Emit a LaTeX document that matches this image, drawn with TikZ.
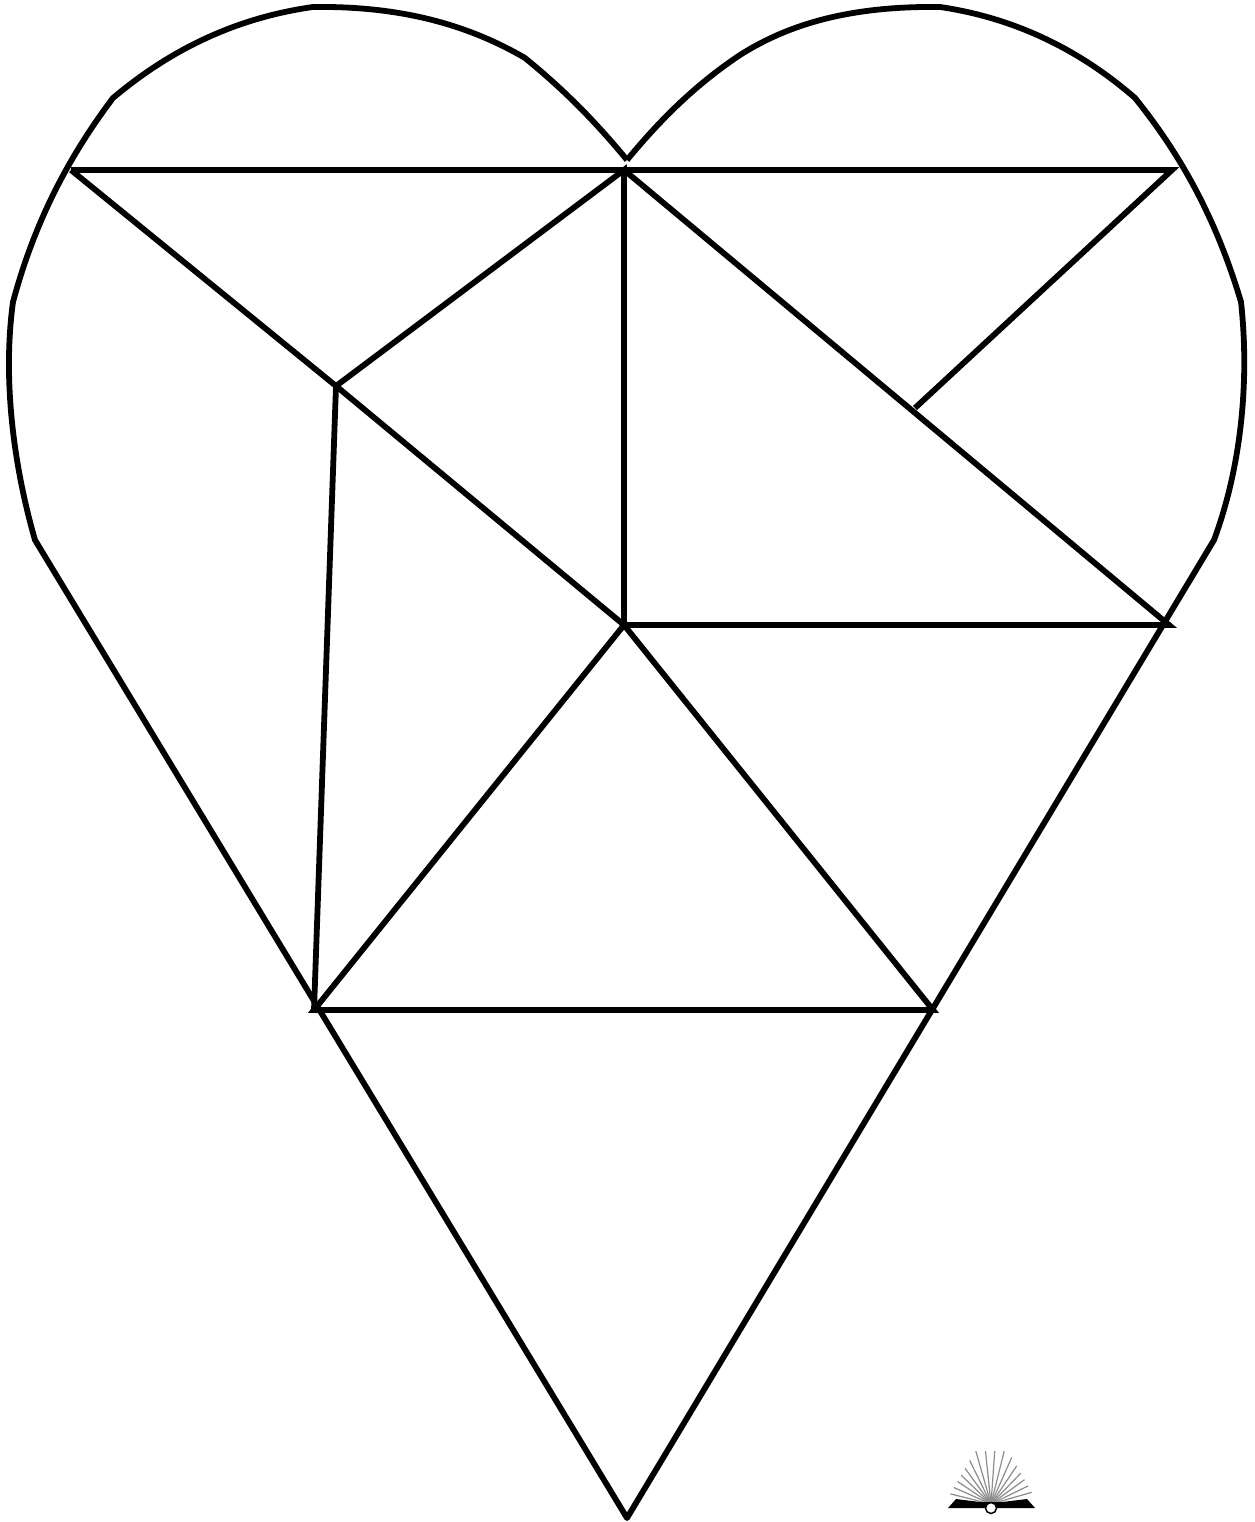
\documentclass[tikz,border=0pt]{standalone}
\usepackage{xcolor}
\usetikzlibrary{calc}
\definecolor{fanline}{HTML}{8C8C8C}

\begin{document}
\begin{tikzpicture}[
  x=0.01cm, y=-0.01cm,
  edge/.style={line width=0.058cm, black, line join=miter},
  rim/.style={line width=0.058cm, black, line join=round},
  leaf/.style={line width=0.012cm, fanline},
]
  \useasboundingbox (0,0) rectangle (1254,1522);
  % corners of the pieces
  \coordinate (tip) at (627,1518);
  \coordinate (notch) at (627,160);
  \coordinate (topL) at (71,170);
  \coordinate (topM) at (624,170);
  \coordinate (topR) at (1172,170);
  \coordinate (inner) at (336,386);
  \coordinate (center) at (624,625);
  \coordinate (rightM) at (1169,625);
  \coordinate (slant) at (915,408);
  \coordinate (lowL) at (314,1010);
  \coordinate (lowR) at (933,1010);
  % outline
  \draw[rim] (notch) .. controls (590,115) and (558,85) .. (525,58)
    .. controls (460,20) and (390,6) .. (313,7)
    .. controls (235,18) and (170,50) .. (113,98)
    .. controls (70,155) and (35,220) .. (13,302)
    .. controls (3,375) and (12,460) .. (35,540)
    -- (tip) -- (1214,540)
    .. controls (1240,470) and (1250,385) .. (1241,302)
    .. controls (1218,225) and (1185,160) .. (1135,98)
    .. controls (1080,50) and (1015,18) .. (940,7)
    .. controls (860,6) and (795,20) .. (740,55)
    .. controls (695,85) and (660,120) .. (notch);
  % pieces
  \draw[edge] (topL) -- (topR) -- (slant);
  \draw[edge] (topL) -- (inner) -- (center) -- (lowL) -- (lowR) -- (center);
  \draw[edge] (inner) -- (topM) -- (center) -- (rightM) -- (topM);
  \draw[edge] (inner) -- (lowL);
  % emblem
  \begin{scope}
    \clip (948,1498) -- (975,1451) -- (1008,1451) -- (1035,1498) -- (1035,1508) -- (948,1508) -- cycle;
    \foreach \a in {16,26,...,166} {
      \draw[leaf] (991,1504) -- ++({-\a}:70);
    }
  \end{scope}
  \fill[black] (948,1508) -- (956,1499) -- (980,1502) -- (1002,1502) -- (1027,1499) -- (1035,1508) -- cycle;
  \draw[line width=0.015cm, black, fill=white] (991,1508) circle (5.5);
\end{tikzpicture}
\end{document}
